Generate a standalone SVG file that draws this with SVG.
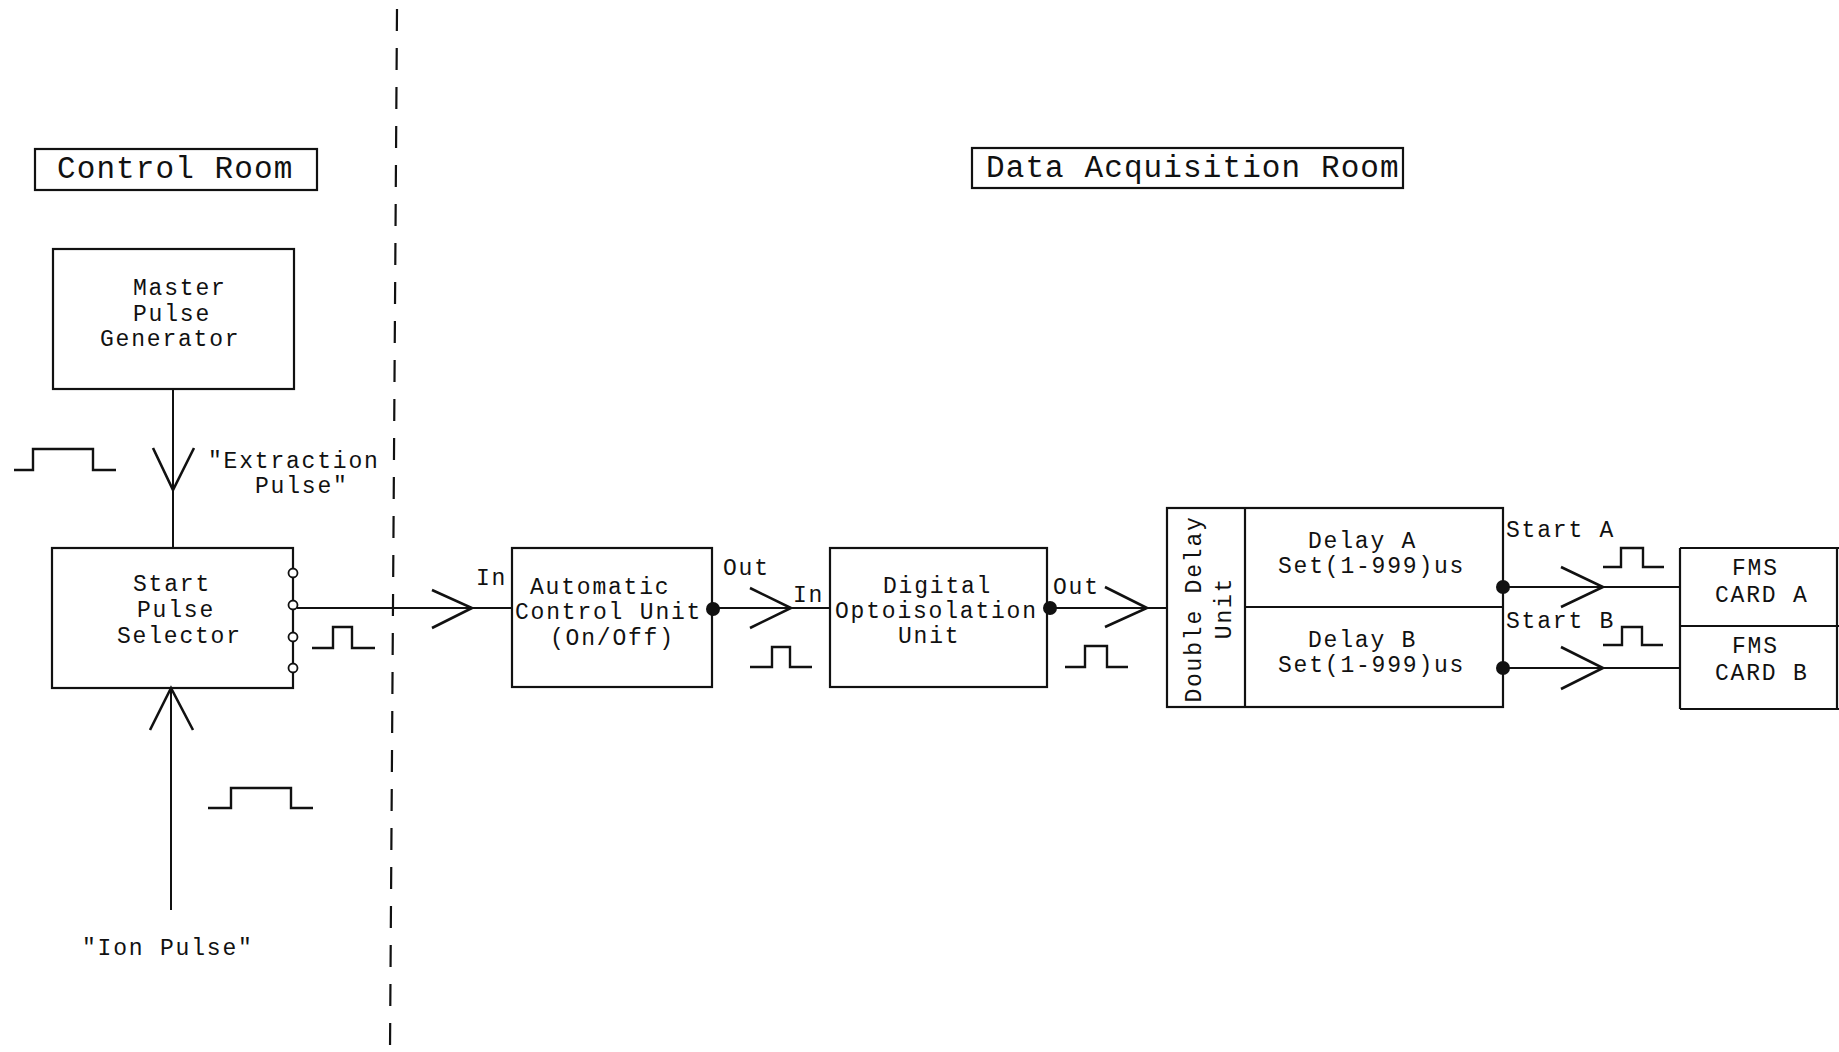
<svg xmlns="http://www.w3.org/2000/svg" width="1839" height="1052" viewBox="0 0 1839 1052">
<style>
.box{fill:none;stroke:#111;stroke-width:2.2}
.ln{fill:none;stroke:#111;stroke-width:2}
.arr{fill:none;stroke:#111;stroke-width:2.6;stroke-linejoin:miter}
.pulse{fill:none;stroke:#111;stroke-width:2.4}
.dot{fill:#111}
.port{fill:#fff;stroke:#111;stroke-width:1.8}
text{font-family:"Liberation Mono","DejaVu Sans Mono",monospace;font-size:23px;letter-spacing:1.8px;fill:#111}
.title{font-size:31px;letter-spacing:1.1px}
</style>
<rect width="1839" height="1052" fill="#fff"/>

<g id="divider">
<line x1="397" y1="9" x2="390" y2="1051" stroke="#111" stroke-width="2.2" stroke-dasharray="22 17"/>
</g>

<g id="control-room-label">
<rect class="box" x="35" y="149" width="282" height="41"/>
<text class="title" x="57" y="178">Control Room</text>
</g>

<g id="data-acq-label">
<rect class="box" x="972" y="148" width="431" height="40"/>
<text class="title" x="986" y="177">Data Acquisition Room</text>
</g>

<g id="master-pulse-generator">
<rect class="box" x="53" y="249" width="241" height="140"/>
<text x="133" y="295">Master</text>
<text x="133" y="321">Pulse</text>
<text x="100" y="346">Generator</text>
</g>

<g id="start-pulse-selector">
<rect class="box" x="52" y="548" width="241" height="140"/>
<text x="133" y="591">Start</text>
<text x="137" y="617">Pulse</text>
<text x="117" y="643">Selector</text>
<circle class="port" cx="293" cy="573" r="4.5"/>
<circle class="port" cx="293" cy="605" r="4.5"/>
<circle class="port" cx="293" cy="637" r="4.5"/>
<circle class="port" cx="293" cy="668" r="4.5"/>
</g>

<g id="automatic-control-unit">
<rect class="box" x="512" y="548" width="200" height="139"/>
<text x="530" y="594">Automatic</text>
<text x="515" y="619">Control Unit</text>
<text x="550" y="645">(On/Off)</text>
</g>

<g id="digital-optoisolation-unit">
<rect class="box" x="830" y="548" width="217" height="139"/>
<text x="883" y="593">Digital</text>
<text x="835" y="618">Optoisolation</text>
<text x="898" y="643">Unit</text>
</g>

<g id="double-delay-unit">
<rect class="box" x="1167" y="508" width="336" height="199"/>
<line class="box" x1="1245" y1="508" x2="1245" y2="707"/>
<line class="box" x1="1245" y1="607" x2="1503" y2="607"/>
<text transform="translate(1201,609) rotate(-90)" text-anchor="middle">Double Delay</text>
<text transform="translate(1231,608) rotate(-90)" text-anchor="middle">Unit</text>
<text x="1308" y="548">Delay A</text>
<text x="1278" y="573">Set(1-999)us</text>
<text x="1308" y="647">Delay B</text>
<text x="1278" y="672">Set(1-999)us</text>
</g>

<g id="fms-cards">
<line class="box" x1="1680" y1="548" x2="1839" y2="548"/>
<line class="box" x1="1680" y1="626" x2="1839" y2="626"/>
<line class="box" x1="1680" y1="709" x2="1839" y2="709"/>
<line class="box" x1="1680" y1="548" x2="1680" y2="709"/>
<line class="box" x1="1837" y1="548" x2="1837" y2="709"/>
<text x="1732" y="575">FMS</text>
<text x="1715" y="602">CARD A</text>
<text x="1732" y="653">FMS</text>
<text x="1715" y="680">CARD B</text>
</g>

<g id="connectors">
<line class="ln" x1="173" y1="389" x2="173" y2="548"/>
<polyline class="arr" points="153,448 173,490 194,448"/>
<line class="ln" x1="171" y1="688" x2="171" y2="910"/>
<polyline class="arr" points="150,730 171,688 193,730"/>
<line class="ln" x1="297" y1="608" x2="512" y2="608"/>
<polyline class="arr" points="432,590 472,608 432,628"/>
<line class="ln" x1="712" y1="608" x2="830" y2="608"/>
<circle class="dot" cx="713" cy="609" r="7"/>
<polyline class="arr" points="750,588 791,608 750,628"/>
<line class="ln" x1="1047" y1="608" x2="1167" y2="608"/>
<circle class="dot" cx="1050" cy="608" r="7"/>
<polyline class="arr" points="1105,587 1147,608 1105,627"/>
<line class="ln" x1="1503" y1="587" x2="1680" y2="587"/>
<circle class="dot" cx="1503" cy="587" r="7"/>
<polyline class="arr" points="1561,567 1603,587 1561,607"/>
<line class="ln" x1="1503" y1="668" x2="1680" y2="668"/>
<circle class="dot" cx="1503" cy="668" r="7"/>
<polyline class="arr" points="1561,647 1603,668 1561,689"/>
</g>

<g id="labels">
<text x="208" y="468">"Extraction</text>
<text x="255" y="493">Pulse"</text>
<text x="82" y="955">"Ion Pulse"</text>
<text x="476" y="585">In</text>
<text x="723" y="575">Out</text>
<text x="793" y="602">In</text>
<text x="1053" y="594">Out</text>
<text x="1506" y="537">Start A</text>
<text x="1506" y="628">Start B</text>
</g>

<g id="pulses">
<polyline class="pulse" points="14,470 33,470 33,449 93,449 93,470 116,470"/>
<polyline class="pulse" points="208,808 231,808 231,788 291,788 291,808 313,808"/>
<polyline class="pulse" points="312,648 333,648 333,627 352,627 352,648 375,648"/>
<polyline class="pulse" points="750,667 772,667 772,647 790,647 790,667 812,667"/>
<polyline class="pulse" points="1065,667 1085,667 1085,646 1107,646 1107,667 1128,667"/>
<polyline class="pulse" points="1603,567 1621,567 1621,548 1643,548 1643,567 1664,567"/>
<polyline class="pulse" points="1603,645 1622,645 1622,627 1642,627 1642,645 1663,645"/>
</g>
</svg>
